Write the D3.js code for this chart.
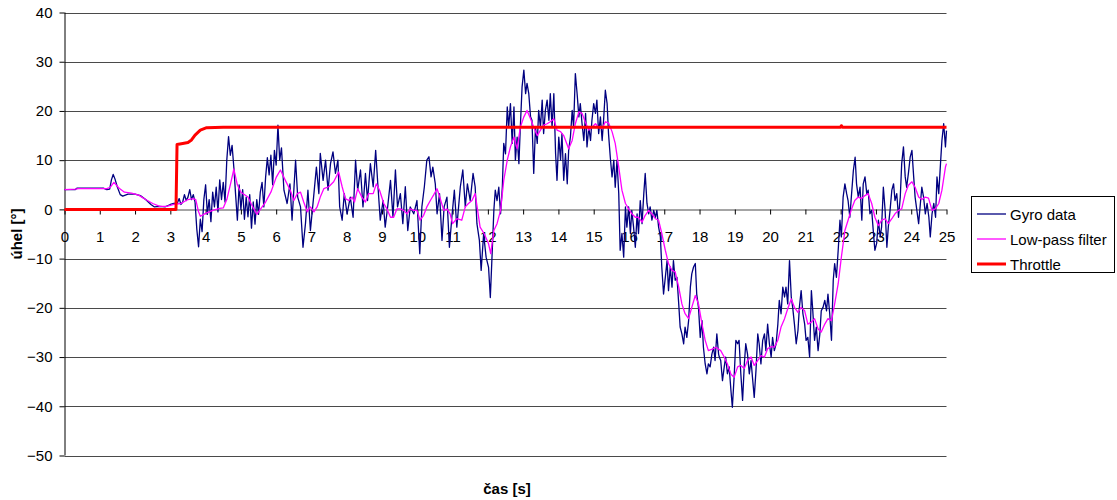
<!DOCTYPE html>
<html>
<head>
<meta charset="utf-8">
<script src="https://cdn.jsdelivr.net/npm/d3@7"></script>
<style>
  html, body { margin: 0; padding: 0; background: #fff; }
  svg { display: block; font-family: "Liberation Sans", Arial, sans-serif; }
</style>
</head>
<body>
<svg id="chart" width="1117" height="500"></svg>
<script>
// ---- data ----
const seriesNames = ["Gyro data", "Low-pass filter", "Throttle"];
const xTicks = [0,1,2,3,4,5,6,7,8,9,10,11,12,13,14,15,16,17,18,19,20,21,22,23,24,25];
const yTicks = [-50, -40, -30, -20, -10, 0, 10, 20, 30, 40];
const xTitle = "čas [s]";
const yTitle = "úhel [°]";

const gyro = [
[0,4.0],[0.3,4.0],[0.35,4.3],[1.1,4.3],[1.2,4.0],[1.28,4.1],[1.33,6.0],[1.38,7.1],[1.43,6.2],[1.5,4.5],[1.58,3.0],[1.65,2.7],[1.8,3.1],[2.0,3.1],[2.15,2.8],[2.3,2.0],[2.45,1.0],[2.55,0.5],[2.7,0.6],[2.85,0.5],[3.0,1.0],[3.1,1.2],[3.2,1.3],[3.25,2.2],[3.3,1.0],[3.35,1.5],[3.4,3.0],[3.45,1.8],[3.5,2.5],[3.55,4.0],[3.6,2.0],[3.65,3.0],[3.7,1.5],[3.75,-4.0],[3.8,-7.6],[3.85,-2.0],[3.9,-4.5],[3.95,2.0],[4.0,5.0],
[4.05,-1.0],[4.1,2.0],[4.15,-2.5],[4.2,3.5],[4.25,0.5],[4.3,4.5],[4.35,-0.5],[4.4,6.0],[4.45,2.0],[4.5,5.5],[4.55,1.5],[4.6,10.0],[4.65,14.8],[4.7,11.0],[4.75,13.0],[4.8,8.5],[4.85,3.0],[4.9,-2.2],[4.95,5.0],[5.0,0.0],[5.05,4.0],[5.1,-2.0],[5.15,2.5],[5.2,-1.5],[5.25,3.0],[5.3,-3.8],[5.35,1.5],[5.4,-3.0],[5.45,2.0],[5.5,-1.0],[5.55,3.5],[5.6,5.5],[5.65,0.5],[5.7,6.5],[5.75,10.5],[5.8,7.0],[5.85,11.0],[5.9,5.0],[5.95,12.0],[6.0,9.0],[6.05,17.1],[6.1,10.0],[6.15,12.5],[6.22,3.9],
[6.31,1.2],[6.39,5.2],[6.45,-2.2],[6.55,10],[6.61,2.5],[6.69,0.5],[6.76,-7.7],[6.83,-2.9],[6.9,3.9],[6.97,-4.3],[7.07,3.2],[7.14,8.6],[7.21,3.2],[7.25,11.4],[7.33,5.9],[7.4,10],[7.47,3.9],[7.54,9.3],[7.61,11.7],[7.68,7.3],[7.75,10],[7.8,0.5],[7.87,-2.2],[7.93,3.2],[8.01,-0.9],[8.1,2.5],[8.18,-1.6],[8.25,10],[8.31,3.9],[8.39,8],[8.46,0.5],[8.53,7.3],[8.59,1.8],[8.67,9.3],[8.75,4.6],[8.82,12],[8.88,5.2],[8.95,-2.2],[9.03,1.8],[9.09,-3.6],[9.16,0.5],[9.24,5.9],[9.31,-1.6],[9.38,8],[9.44,0.5],[9.52,3.2],[9.59,-2.9],[9.66,4.6],[9.73,-4.3],[9.8,0.5],[9.9,-0.9],[9.99,1.8],[10.07,-9],[10.13,0.5],[10.2,4.6],[10.27,10],[10.33,10.7],[10.39,6.6],[10.44,8.6],[10.51,5.2],[10.56,-0.9],[10.63,3.2],[10.7,-6.3],[10.76,0.5],[10.84,2.5],[10.91,-7.7],[10.98,-1.6],[11.05,3.9],[11.12,-3.6],[11.22,4.6],[11.29,8],[11.36,0.5],[11.42,5.2],[11.5,1.8],[11.58,7.3],[11.64,4.6],[11.69,-2.9],[11.76,-6.3],[11.81,-12.4],[11.88,-5],[11.95,-9.7],[12.02,-11.8],[12.07,-17.9],[12.11,-11],[12.17,-0.2],
[12.21,3.9],[12.26,1.8],[12.31,4.5],[12.36,-0.9],[12.41,4.5],[12.45,13.4],[12.5,11.3],[12.55,20.8],[12.59,16.7],[12.64,21.5],[12.69,13.4],[12.74,20.8],[12.78,10],[12.83,14.7],[12.88,9.3],[12.92,16.7],[12.97,24.9],[13.02,28.3],[13.07,23.5],[13.11,25.6],[13.16,23.5],[13.21,18.8],[13.25,18.1],[13.3,7.3],[13.35,16.7],[13.4,13.4],[13.44,20.1],[13.49,16.7],[13.54,22.2],[13.58,15.4],[13.63,20.1],[13.68,22.2],[13.73,18.1],[13.77,23.5],[13.82,16.7],[13.87,23.5],[13.92,11.3],[13.96,5.9],[14.01,14.7],[14.06,10],[14.1,15.4],[14.15,5.9],[14.2,11.3],[14.25,5.2],[14.29,12],[14.34,14.7],[14.39,20.1],[14.43,16.7],[14.48,27.6],[14.53,23.5],[14.58,18.8],[14.62,21.5],[14.67,17.4],[14.72,14],[14.77,19.5],[14.81,12.7],[14.86,16.7],[14.91,14],[14.95,18.1],[15.0,21.5],[15.05,19.5],[15.09,22.2],[15.14,15.4],[15.19,18.8],[15.24,14],[15.28,18.1],[15.33,24.2],[15.38,21.5],[15.42,15.4],[15.47,10.6],[15.52,6.6],[15.57,10],[15.61,4.5],[15.66,10],[15.71,3.2],[15.75,-8.3],[15.8,-4.9],[15.85,-9.7],[15.9,0.5],[15.94,-3.6],[15.99,0.5],[16.04,-4.9],[16.08,-0.2],[16.13,-3.6],[16.18,-7.7],[16.23,-0.9],[16.27,-4.9],[16.32,1.8],[16.37,-2.9],[16.42,3.2],[16.46,7.3],[16.51,1.2],[16.56,-0.9],[16.6,0.5],[16.65,-2.2],[16.7,-0.2],[16.75,-1.6],[16.79,-0.2],[16.84,-3.6],[16.89,-5.6],[16.93,-11.7],[16.98,-17.2],[17.03,-13.8],[17.08,-10.4],[17.12,-16.5],[17.17,-11.7],[17.22,-15.8],[17.26,-10.4],[17.31,-14.4],[17.36,-13.8],[17.41,-19.2],[17.45,-23.9],[17.5,-25.3],[17.55,-27.3],[17.59,-23.9],[17.64,-26],[17.69,-22.6],[17.74,-15.8],[17.78,-13.1],[17.83,-11.7],[17.88,-11],[17.92,-17.2],[17.97,-19.9],[18.02,-26],[18.07,-22.6],[18.11,-28],[18.16,-31.4],[18.21,-33.4],[18.25,-31.4],[18.3,-32],[18.35,-29.4],[18.4,-28],[18.44,-30.7],[18.49,-25.3],[18.54,-29.4],
[18.56,-30],[18.6,-30.7],[18.65,-34.8],[18.7,-32],[18.74,-30],[18.79,-33.4],[18.84,-32],[18.89,-36.8],[18.93,-40.2],[18.98,-34.1],[19.03,-26.6],[19.08,-27.3],[19.12,-26.6],[19.17,-33.4],[19.22,-38.8],[19.27,-31.4],[19.31,-27.3],[19.36,-29.4],[19.41,-33.4],[19.46,-30.7],[19.5,-34.1],[19.55,-38.2],[19.6,-32.7],[19.65,-25.3],[19.69,-27.3],[19.74,-31.4],[19.79,-26.6],[19.84,-25.3],[19.88,-28.7],[19.93,-23.3],[19.98,-27.3],[20.03,-30],[20.07,-26],[20.12,-28.7],[20.17,-27.3],[20.22,-23.3],[20.26,-18.5],[20.31,-21.2],[20.36,-15.8],[20.41,-17.8],[20.45,-15.8],[20.5,-19.2],[20.55,-10.4],[20.6,-17.8],[20.64,-19.9],[20.69,-23.3],[20.74,-27.3],[20.79,-24.6],[20.83,-19.9],[20.88,-16.5],[20.93,-21.2],[20.98,-23.3],[21.02,-26.6],[21.07,-26],[21.12,-30],[21.17,-16.5],[21.21,-20.6],[21.26,-26.6],[21.31,-23.9],[21.36,-28.7],[21.41,-25.3],[21.45,-20.6],[21.5,-19.9],[21.55,-18.5],[21.6,-20.6],[21.64,-17.2],[21.69,-21.2],[21.74,-26.6],[21.79,-14.4],[21.83,-11],[21.88,-13.8],[21.93,-8.3],[21.98,-2.2],[22.02,-5.6],[22.07,2.5],[22.12,5.2],[22.17,3.2],[22.21,1.8],[22.26,-1.6],[22.31,3.2],[22.36,7.9],[22.41,10.6],[22.45,5.2],[22.5,2.5],[22.55,4.5],[22.6,-2.2],[22.64,5.2],[22.69,6.6],[22.74,3.2],[22.78,3.9],[22.83,-0.9],[22.88,-0.2],[22.93,-4.9],[22.97,-8.3],[23.02,-6.9],[23.07,-2.2],[23.12,-5.6],[23.16,-3.6],[23.21,4.5],[23.26,-0.2],[23.31,-7.7],[23.35,-3.6],[23.4,-0.2],[23.45,3.9],[23.5,5.2],[23.54,1.8],[23.59,3.2],[23.64,-1.6],[23.69,2.5],[23.73,9.3],[23.78,12.7],[23.83,6.6],[23.87,4.5],[23.92,7.3],[23.97,10.6],[24.02,12],[24.07,6.6],[24.11,2.5],[24.16,-0.2],[24.21,-2.9],[24.26,1.2],[24.3,4.5],[24.35,2.5],[24.4,-0.9],[24.45,1.2],[24.5,-1.6],[24.54,-5.6],[24.59,-0.9],[24.64,1.2],[24.69,-1.6],[24.73,6.6],[24.78,3.2],[24.83,9.3],[24.87,14],[24.92,17.4],[24.97,12.7],[25.0,16]
];

const lowpass = [
[0,4.0],[0.3,4.1],[0.4,4.2],[1.2,4.2],[1.3,4.5],[1.4,5.5],[1.55,4.3],[1.7,3.5],[1.9,3.3],[2.1,2.9],[2.3,2.0],[2.5,1.2],[2.7,0.6],[2.9,0.6],[3.1,1.0],[3.3,1.2],[3.5,2.0],[3.65,2.2],[3.72,2.0],[3.8,-0.5],[3.85,-1.4],[4.0,-0.8],[4.2,-0.2],[4.4,0.2],[4.5,0.3],[4.6,2.0],[4.7,5.0],[4.8,8.2],[4.9,5.0],[5.0,3.5],[5.2,2.5],[5.3,1.0],[5.45,-1.0],[5.55,0.0],[5.7,1.5],[5.85,3.5],[6.0,6.5],[6.12,8.0],[6.26,5.9],[6.4,3.9],[6.5,1.8],[6.6,3.2],[6.69,3.5],[6.78,1.5],[6.88,-0.5],[6.97,0.5],[7.07,-0.5],[7.16,0.5],[7.25,2.5],[7.35,4.2],[7.49,4.6],[7.63,5.6],[7.77,7.6],[7.87,4.6],[7.96,2.2],[8.06,1.8],[8.15,2.5],[8.22,1.5],[8.31,4.2],[8.43,2.5],[8.53,1.5],[8.62,3.2],[8.75,3.2],[8.84,5.2],[8.93,3.9],[9.05,1.2],[9.14,0.1],[9.24,-1.6],[9.33,-1.6],[9.42,0.1],[9.52,0.1],[9.61,-0.2],[9.71,-0.9],[9.8,0.1],[9.9,-0.2],[9.99,-0.2],[10.08,-2.2],[10.18,-1.2],[10.27,0.5],[10.37,1.8],[10.46,2.9],[10.56,4.2],[10.65,2.2],[10.75,-0.2],[10.84,0.1],[10.93,-0.9],[11.0,-2.9],[11.12,-1.9],[11.26,-2.2],[11.36,0.5],[11.45,1.2],[11.55,1.8],[11.64,3.2],[11.71,-0.2],[11.78,-3.6],[11.9,-5.0],[12.02,-7.0],[12.08,-9.0],[12.17,-4.3],[12.26,-2.9],[12.36,-0.2],[12.45,5.9],[12.55,10.0],[12.64,12.7],[12.74,14.7],[12.83,12.3],[12.92,16.7],[13.02,18.8],[13.11,20.1],[13.21,18.4],[13.3,16.7],[13.4,15.0],[13.49,16.1],[13.58,17.1],[13.68,17.4],[13.77,17.8],[13.87,18.4],[13.96,16.1],[14.06,15.8],[14.15,15.0],[14.29,12.3],[14.39,14.0],[14.48,17.4],[14.58,19.8],[14.67,19.5],[14.76,17.8],[14.86,16.1],[14.95,16.7],[15.05,17.4],[15.14,16.7],[15.24,16.4],[15.33,17.8],[15.42,17.6],[15.52,15.8],[15.61,13.4],[15.71,8.6],[15.8,3.9],[15.9,1.2],[15.99,0.1],[16.08,-0.9],[16.18,-1.6],[16.27,-1.6],[16.37,-2.6],[16.46,-1.2],[16.56,-0.2],[16.65,-0.9],[16.75,-1.9],[16.84,-2.2],[16.93,-4.9],[17.03,-8.3],[17.12,-11.0],[17.22,-12.4],[17.31,-12.7],[17.41,-15.8],[17.5,-19.2],[17.59,-21.2],[17.69,-22.2],[17.78,-19.9],[17.88,-17.5],[17.97,-19.2],[18.07,-23.3],[18.16,-26.6],[18.25,-28.7],[18.36,-28.4],[18.46,-28.0],[18.6,-28.7],[18.7,-30.0],[18.79,-31.4],[18.89,-33.5],[18.98,-34.1],[19.08,-32.0],[19.17,-31.7],[19.27,-32.3],[19.36,-30.7],[19.46,-30.0],[19.55,-31.7],[19.65,-30.7],[19.74,-29.7],[19.84,-30.0],[19.93,-28.3],[20.03,-27.9],[20.12,-28.0],[20.22,-26.6],[20.31,-23.9],[20.41,-22.2],[20.5,-20.2],[20.6,-18.2],[20.69,-19.9],[20.79,-20.9],[20.88,-19.9],[20.98,-20.6],[21.07,-23.3],[21.17,-22.9],[21.26,-22.2],[21.36,-24.3],[21.45,-24.9],[21.55,-23.3],[21.64,-22.2],[21.74,-22.6],[21.83,-19.2],[21.93,-15.1],[22.02,-9.7],[22.12,-4.3],[22.21,-2.2],[22.31,0.1],[22.4,1.8],[22.5,2.5],[22.59,2.2],[22.69,2.8],[22.78,3.2],[22.88,1.2],[22.97,-1.6],[23.07,-3.3],[23.16,-2.2],[23.26,-1.9],[23.35,-2.9],[23.45,-1.9],[23.54,-0.9],[23.64,-0.2],[23.73,0.1],[23.83,3.2],[23.92,4.9],[24.02,5.6],[24.11,4.5],[24.21,2.5],[24.3,2.0],[24.4,2.5],[24.49,2.3],[24.59,-0.2],[24.68,0.1],[24.78,1.2],[24.87,3.9],[24.97,8.6],[25.0,9.3]
];

const throttle = [
[0,0],[3.16,0],[3.19,13.2],[3.35,13.4],[3.5,13.6],[3.6,14.1],[3.7,15.1],[3.85,16.1],[4.03,16.6],[4.5,16.7],[22.0,16.7],[22.02,17.0],[22.05,16.7],[25,16.7]
];

// ---- drawing ----
const svg = d3.select("#chart");
const x = d3.scaleLinear().domain([0, 25]).range([64.5, 946.5]);
const y = d3.scaleLinear().domain([-50, 40]).range([455.5, 12.5]);

// gridlines
svg.append("g").selectAll("line").data(yTicks.filter(d => d !== 0)).join("line")
  .attr("x1", x(0)).attr("x2", x(25))
  .attr("y1", d => Math.round(y(d)) + 0.5).attr("y2", d => Math.round(y(d)) + 0.5)
  .attr("stroke", "#4a4a4a").attr("stroke-width", 1);

// y axis
const yAxis = svg.append("g").attr("transform", `translate(${x(0)},0)`)
  .call(d3.axisLeft(y).tickValues(yTicks).tickSize(5).tickPadding(7).tickFormat(d3.format("d")));
yAxis.select(".domain").attr("stroke", "#000").attr("d", `M0.5,${y(40)}V${y(-50)}`);
yAxis.selectAll(".tick line").attr("stroke", "#000");
yAxis.selectAll(".tick text").attr("font-size", 15).attr("font-family", "Liberation Sans, Arial, sans-serif").attr("fill", "#000");

// x axis at y=0
const xAxis = svg.append("g").attr("transform", `translate(0,${Math.round(y(0)) + 0.5})`)
  .call(d3.axisBottom(x).tickValues(xTicks).tickSize(5).tickSizeOuter(0).tickPadding(17).tickFormat(d3.format("d")));
xAxis.select(".domain").attr("stroke", "#4a4a4a");
xAxis.selectAll(".tick line").attr("stroke", "#000");
xAxis.selectAll(".tick text").attr("font-size", 15).attr("font-family", "Liberation Sans, Arial, sans-serif").attr("fill", "#000");

// lines
const line = d3.line().x(d => x(d[0])).y(d => y(d[1]));
svg.append("path").datum(gyro).attr("d", line)
  .attr("fill", "none").attr("stroke", "#000080").attr("stroke-width", 1.3).attr("stroke-linejoin", "round");
svg.append("path").datum(lowpass).attr("d", line)
  .attr("fill", "none").attr("stroke", "#ff00ff").attr("stroke-width", 1.3).attr("stroke-linejoin", "round");
svg.append("path").datum(throttle).attr("d", line)
  .attr("fill", "none").attr("stroke", "#ff0000").attr("stroke-width", 3).attr("stroke-linejoin", "round");

// titles
svg.append("text").attr("x", 507).attr("y", 494).attr("text-anchor", "middle")
  .attr("font-size", 15).attr("font-weight", "bold").text(xTitle);
svg.append("text").attr("transform", "translate(22,234) rotate(-90)").attr("text-anchor", "middle")
  .attr("font-size", 15).attr("font-weight", "bold").text(yTitle);

// legend
const lg = svg.append("g");
lg.append("rect").attr("x", 971.5).attr("y", 196.5).attr("width", 143).attr("height", 76)
  .attr("fill", "#fff").attr("stroke", "#000").attr("stroke-width", 1);
const legendColors = ["#000080", "#ff00ff", "#ff0000"];
const legendWidths = [1.3, 1.3, 3];
seriesNames.forEach((name, i) => {
  const cy = 214 + i * 25;
  lg.append("line").attr("x1", 977).attr("x2", 1006).attr("y1", cy).attr("y2", cy)
    .attr("stroke", legendColors[i]).attr("stroke-width", legendWidths[i]);
  lg.append("text").attr("x", 1010).attr("y", cy + 5.5).attr("font-size", 15).text(name);
});
</script>
</body>
</html>
